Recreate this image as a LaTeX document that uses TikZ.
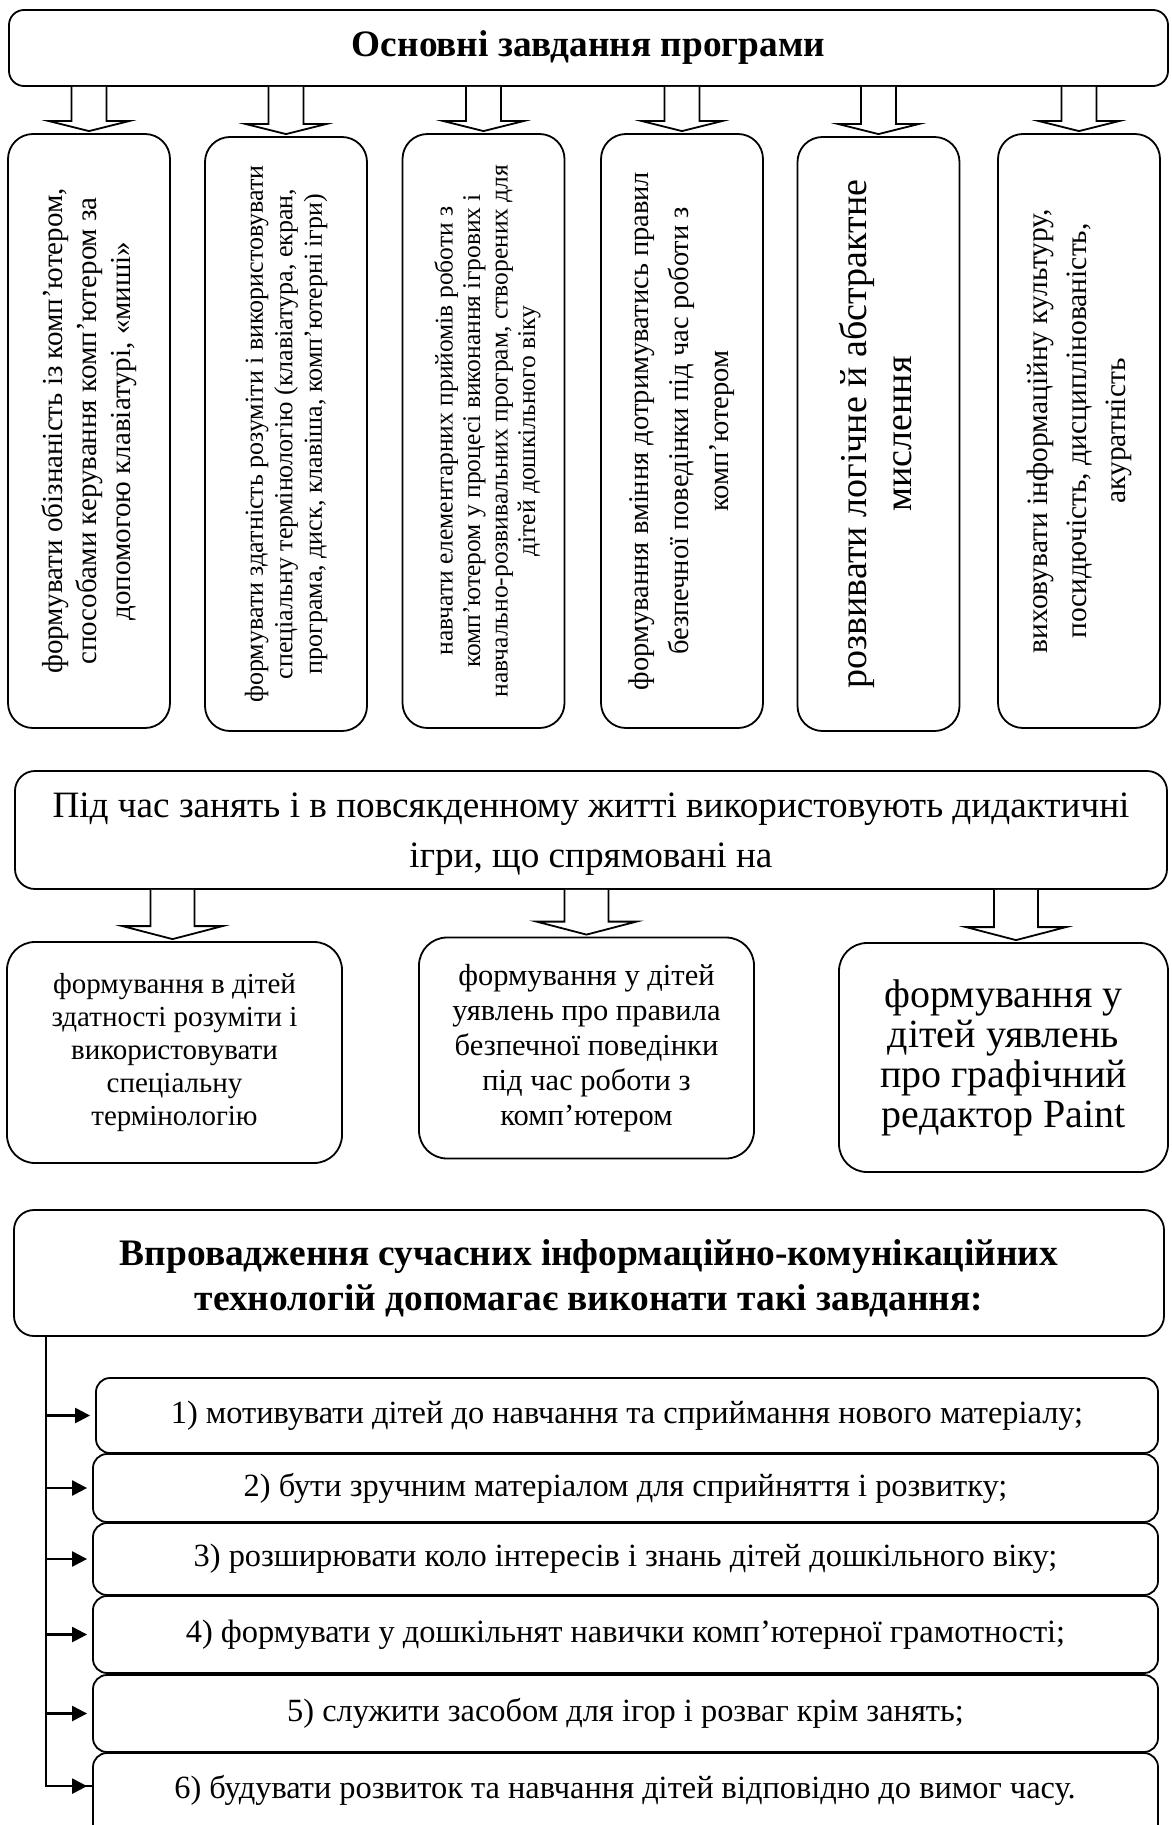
\documentclass[tikz,border=0pt]{standalone}
\usepackage{fontspec}
\setmainfont{Liberation Serif}
\usetikzlibrary{calc,arrows.meta}
\newcommand\myfs[2]{\fontsize{#1}{#2}\selectfont}
% hollow block arrow: [x offset] from node, to node, half shaft, half head, head length
\newcommand\blockarr[6][0pt]{%
  \draw[blk] let \p1=($(#3.north)+(#1,0)$), \p2=(#2.south) in
    (\x1-#4,\y2) -- (\x1-#4,\y1+2pt+#6) -- (\x1-#5,\y1+2pt+#6) -- (\x1,\y1+2pt)
    -- (\x1+#5,\y1+2pt+#6) -- (\x1+#4,\y1+2pt+#6) -- (\x1+#4,\y2);}
\begin{document}
\begin{tikzpicture}[x=1pt,y=-1pt,
  box/.style={draw, line width=1.8pt, inner sep=0pt, align=center},
  colbox/.style={box, rounded corners=25pt, minimum width=162pt, minimum height=594pt},
  lowbox/.style={box, rounded corners=28pt},
  itembox/.style={box, rounded corners=14pt},
  itemfont/.style={font=\myfs{32.4}{35}},
  vtext/.style={rotate=90, align=center},
  blk/.style={line width=1.8pt, fill=white, line join=miter},
  trunkline/.style={line width=1.5pt},
  itemarrow/.style={line width=2.3pt, -{Triangle[length=15pt,width=15pt]}, shorten >=5pt}]
\useasboundingbox (0,0) rectangle (1171,1825);
\fill[white] (0,0) rectangle (1171,1825);

% ---------- top section
\node[box, rounded corners=15pt, minimum width=1159pt, minimum height=76pt,
      font=\myfs{37.3}{40}\bfseries] (top) at (588.5,48) {Основні завдання програми};

\node[colbox] (c1) at (89,431) {};
\node[colbox] (c2) at (286,434) {};
\node[colbox] (c3) at (483.5,431) {};
\node[colbox] (c4) at (682,431) {};
\node[colbox] (c5) at (878.5,434) {};
\node[colbox] (c6) at (1079,431) {};

\node[vtext, font=\myfs{29}{34}] (t1) at (c1) {формувати обізнаність із комп’ютером,\\способами керування комп’ютером за\\допомогою клавіатурі, «миші»};
\node[vtext, font=\myfs{26}{29.5}] (t2) at (c2) {формувати здатність розуміти і використовувати\\спеціальну термінологію (клавіатура, екран,\\програма, диск, клавіша, комп’ютерні ігри)};
\node[vtext, font=\myfs{25.5}{27.5}] (t3) at ([xshift=4pt]c3.center) {навчати елементарних прийомів роботи з\\комп’ютером у процесі виконання ігрових і\\навчально-розвивальних програм, створених для\\дітей дошкільного віку};
\node[vtext, font=\myfs{28.5}{40}] (t4) at (c4) {формування вміння дотримуватись правил\\безпечної поведінки під час роботи з\\комп’ютером};
\node[vtext, font=\myfs{38}{45}] (t5) at ([xshift=-3pt]c5.center) {розвивати логічне й абстрактне\\мислення};
\node[vtext, font=\myfs{29.5}{39}] (t6) at (c6) {виховувати інформаційну культуру,\\посидючість, дисциплінованість,\\акуратність};

\foreach \c in {c1,c2,c3,c4,c5,c6} {\blockarr{top}{\c}{17.5pt}{40pt}{10pt}}

% ---------- middle section
\node[box, rounded corners=20pt, minimum width=1152pt, minimum height=118pt] (mid) at (591,830) {};
\node[align=center, font=\myfs{37.2}{50}] (midtext) at ([yshift=-4pt]mid.center) {Під час занять і в повсякденному житті використовують дидактичні\\ігри, що спрямовані на};

\node[lowbox, minimum width=335pt, minimum height=221pt, font=\myfs{29}{33}] (d1) at (174.5,1052.5)
  {формування в дітей\\здатності розуміти і\\використовувати\\спеціальну\\термінологію};
\node[lowbox, minimum width=335pt, minimum height=221pt, font=\myfs{30.5}{35}] (d2) at (586.5,1048)
  {формування у дітей\\уявлень про правила\\безпечної поведінки\\під час роботи з\\комп’ютером};
\node[lowbox, minimum width=329pt, minimum height=229pt, font=\myfs{40}{40}] (d3) at (1003.5,1057.5)
  {формування у\\дітей уявлень\\про графічний\\редактор Paint};

\blockarr[-2pt]{mid}{d1}{22pt}{50pt}{13pt}
\blockarr{mid}{d2}{22pt}{50pt}{13pt}
\blockarr[12.5pt]{mid}{d3}{22pt}{50pt}{13pt}

% ---------- bottom section
\node[box, rounded corners=20pt, minimum width=1150pt, minimum height=126pt] (bb) at (589,1273) {};
\node[align=center, font=\myfs{37.4}{45}\bfseries] (bbtext) at ([yshift=-5pt]bb.center)
  {Впровадження сучасних інформаційно-комунікаційних\\технологій допомагає виконати такі завдання:};

\node[itembox, itemfont, minimum width=1062pt, minimum height=75pt] (i1) at (627,1415.5) {1) мотивувати дітей до навчання та сприймання нового матеріалу;};
\node[itembox, itemfont, minimum width=1065pt, minimum height=68pt] (i2) at (625.5,1488) {2) бути зручним матеріалом для сприйняття і розвитку;};
\node[itembox, itemfont, minimum width=1065pt, minimum height=72pt] (i3) at (625.5,1559) {3) розширювати коло інтересів і знань дітей дошкільного віку;};
\node[itembox, itemfont, minimum width=1065pt, minimum height=77pt] (i4) at (625.5,1634.5) {4) формувати у дошкільнят навички комп’ютерної грамотності;};
\node[itembox, itemfont, minimum width=1065pt, minimum height=77pt] (i5) at (625.5,1713.5) {5) служити засобом для ігор і розваг крім занять;};
\node[itembox, minimum width=1065pt, minimum height=97pt] (i6) at (625.5,1801.5) {};
\node[itemfont] (i6text) at (625,1790) {6) будувати розвиток та навчання дітей відповідно до вимог часу.};

\coordinate (trunk) at ([xshift=33pt]bb.south west);
\draw[trunkline] (trunk) |- ([yshift=-34pt]i6.north west);
\draw[itemarrow] ([yshift=-34pt]trunk |- i6.north west) -- ([yshift=-34pt]i6.north west);
\foreach \i in {i1,i2,i3,i4,i5} {\draw[itemarrow] (trunk |- \i.west) -- (\i.west);}
\end{tikzpicture}
\end{document}
